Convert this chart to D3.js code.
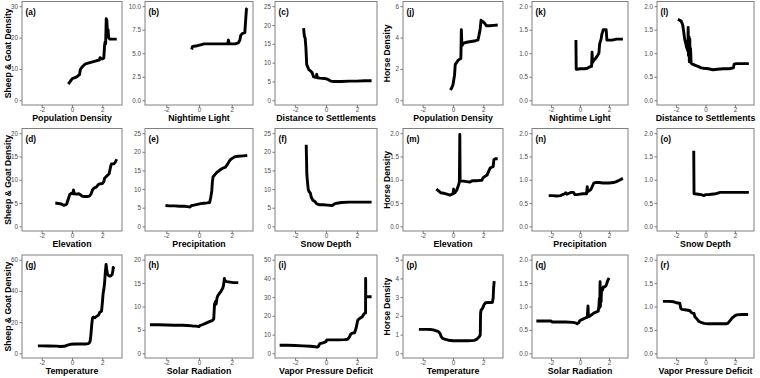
<!DOCTYPE html>
<html><head><meta charset="utf-8">
<script src="https://cdn.jsdelivr.net/npm/d3@7"></script>
<style>body{margin:0;background:#fff}svg{display:block}text{font-family:"Liberation Sans",Arial,sans-serif}</style>
</head><body><svg id="c" width="760" height="378"></svg>
<script>
// ---- data ----
const aX=[-0.25,-0.15,-0.05,0.05,0.2,0.35,0.45,0.5,0.55,0.62,0.7,0.85,1.0,1.3,1.6,1.8,1.85,1.95,2.0,2.1,2.15,2.18,2.22,2.26,2.3,2.35,2.38,2.42,2.5,2.7,2.95];
const aY=[5.2,5.8,6.5,7.0,7.2,7.6,8.0,8.2,9.8,10.3,10.8,11.5,11.8,12.2,12.6,12.8,13.6,13.2,13.2,13.5,17.5,18.5,18.0,26.0,25.5,20.5,22.5,20.0,19.5,19.5,19.5];
const bX=[-0.45,-0.4,-0.3,-0.1,0.1,0.3,0.8,1.3,1.75,1.8,1.85,1.9,2.2,2.4,2.5,2.55,2.65,2.8,2.85,2.9,2.95];
const bY=[5.4,5.7,5.75,5.8,5.9,6.0,6.0,6.0,6.0,6.4,6.0,6.0,6.0,6.1,6.4,6.9,7.1,7.2,8.5,9.7,9.8];
const cX=[-1.45,-1.4,-1.35,-1.3,-1.25,-1.2,-1.1,-1.0,-0.9,-0.8,-0.7,-0.62,-0.6,-0.57,-0.4,-0.1,0.1,0.3,0.5,1.0,1.5,2.0,2.5,2.95];
const cY=[19.2,17.0,16.6,14.0,9.6,9.0,8.1,7.8,7.4,6.2,6.1,6.1,6.9,6.0,5.9,5.8,5.6,5.1,5.0,5.0,5.1,5.1,5.2,5.2];
const dX=[-1.1,-0.9,-0.7,-0.55,-0.45,-0.35,-0.25,-0.15,-0.05,0.05,0.1,0.15,0.3,0.45,0.55,0.65,0.8,1.0,1.15,1.25,1.35,1.45,1.6,1.75,1.85,2.0,2.1,2.15,2.3,2.45,2.55,2.6,2.75,2.85,2.95];
const dY=[5.0,4.9,4.8,4.5,4.6,4.8,5.8,6.8,7.1,7.0,7.8,7.0,6.9,7.0,6.8,6.5,6.4,6.4,6.5,6.9,7.8,8.2,8.4,9.0,9.1,9.2,9.6,10.3,10.8,11.3,12.8,13.4,13.4,13.7,14.4];
const eX=[-2.05,-1.8,-1.5,-1.2,-0.9,-0.7,-0.55,-0.45,-0.3,-0.1,0.1,0.3,0.5,0.65,0.72,0.78,0.82,0.86,0.9,1.0,1.1,1.2,1.3,1.45,1.6,1.75,1.85,1.95,2.05,2.2,2.4,2.7,2.95];
const eY=[5.6,5.5,5.5,5.4,5.4,5.3,5.2,5.6,5.7,5.9,6.1,6.2,6.3,6.4,7.8,9.5,12.0,13.3,13.5,14.0,14.5,14.8,15.2,15.6,15.8,16.7,17.5,18.0,18.3,18.7,18.8,18.9,19.0];
const fX=[-1.28,-1.26,-1.24,-1.2,-1.15,-1.1,-1.02,-0.95,-0.85,-0.7,-0.6,-0.45,-0.2,0.1,0.4,0.55,0.7,1.0,1.5,2.0,2.5,2.95];
const fY=[21.9,18.0,14.0,12.0,10.0,9.3,9.0,7.8,7.0,6.6,6.0,5.8,5.8,5.7,5.6,6.0,6.2,6.4,6.5,6.5,6.5,6.5];
const gX=[-2.25,-2.0,-1.5,-1.0,-0.8,-0.5,-0.3,-0.1,0.2,0.6,0.9,1.05,1.15,1.2,1.25,1.3,1.35,1.4,1.5,1.6,1.75,1.85,1.95,2.0,2.05,2.1,2.15,2.2,2.25,2.3,2.35,2.45,2.55,2.65,2.7,2.72,2.75];
const gY=[4.8,4.8,4.7,4.6,4.4,4.5,5.2,5.8,6.0,6.0,6.0,6.2,6.8,8,12,18,22.5,23.2,22.8,23.5,24.5,26.5,27,32,38,41,45,52,57,53,50.5,49.5,49.5,50.5,53,55,54];
const hX=[-3.0,-2.5,-2.0,-1.5,-1.0,-0.7,-0.4,-0.2,0.0,0.05,0.2,0.4,0.6,0.8,0.9,0.95,1.0,1.05,1.1,1.15,1.25,1.35,1.45,1.5,1.55,1.6,1.7,1.9,2.1,2.4];
const hY=[6.1,6.1,6.05,6.0,6.0,5.95,5.85,5.8,5.7,5.9,6.1,6.4,6.7,7.0,7.3,10.5,11.0,10.5,11.8,12.3,12.8,13.3,13.9,14.5,16.0,15.4,15.3,15.2,15.1,15.1];
const iX=[-3.0,-2.5,-2.0,-1.5,-1.0,-0.7,-0.55,-0.48,-0.4,-0.2,0.0,0.05,0.4,0.8,1.2,1.4,1.5,1.6,1.7,1.85,1.95,2.05,2.15,2.25,2.35,2.45,2.52,2.56,2.565,2.57,2.62,2.8,2.95];
const iY=[4.3,4.3,4.2,4.0,3.8,3.5,3.3,3.8,5.2,5.6,6.2,7.2,7.2,7.2,7.3,7.5,8.5,10.2,10.8,11.0,13.5,17.5,18.5,19.0,19.5,21.0,21.5,21.5,40.0,30.2,30.2,30.2,30.2];
const jX=[-0.17,-0.08,0.0,0.05,0.1,0.15,0.2,0.3,0.4,0.5,0.52,0.55,0.58,0.6,0.7,0.9,1.2,1.5,1.65,1.75,1.8,1.85,1.9,2.0,2.1,2.2,2.4,2.7,2.95];
const jY=[0.65,0.8,1.0,1.3,1.6,2.3,2.35,2.5,2.6,2.65,2.7,4.5,3.7,3.5,3.65,3.7,3.75,3.8,3.85,4.3,4.6,5.1,5.05,5.0,4.9,4.75,4.75,4.78,4.8];
const kX=[-0.28,-0.26,-0.2,0.0,0.3,0.5,0.6,0.75,0.8,0.83,0.86,0.95,1.05,1.2,1.3,1.35,1.45,1.5,1.6,1.7,1.8,1.85,1.9,2.2,2.5,2.8,2.95];
const kY=[1.28,0.66,0.66,0.67,0.67,0.68,0.7,0.72,0.72,1.02,0.8,0.85,0.88,0.95,1.0,1.2,1.3,1.4,1.5,1.5,1.5,1.28,1.28,1.28,1.3,1.3,1.3];
const lX=[-1.88,-1.75,-1.65,-1.55,-1.48,-1.42,-1.35,-1.28,-1.2,-1.18,-1.16,-1.12,-1.1,-1.07,-1.05,-1.02,-0.98,-0.95,-0.9,-0.8,-0.7,-0.5,-0.3,-0.1,0.2,0.5,0.8,1.2,1.6,1.9,1.95,2.1,2.5,2.95];
const lY=[1.72,1.7,1.68,1.6,1.45,1.3,1.22,1.12,1.05,1.55,0.95,1.35,0.82,1.3,0.85,1.1,0.8,0.78,0.77,0.76,0.74,0.72,0.69,0.68,0.67,0.65,0.66,0.67,0.67,0.69,0.77,0.78,0.78,0.78];
const mX=[-1.1,-0.95,-0.8,-0.6,-0.4,-0.2,0.0,0.04,0.08,0.15,0.25,0.35,0.42,0.45,0.47,0.55,0.7,0.9,1.1,1.3,1.6,1.9,2.0,2.1,2.25,2.35,2.45,2.55,2.65,2.7,2.8,2.95];
const mY=[0.8,0.76,0.72,0.71,0.69,0.67,0.7,0.8,0.71,0.73,0.78,0.87,0.95,1.97,0.97,0.97,0.97,0.96,0.95,0.98,0.98,0.99,1.05,1.07,1.1,1.18,1.25,1.27,1.28,1.43,1.45,1.45];
const nX=[-2.15,-1.9,-1.6,-1.35,-1.2,-1.05,-0.98,-0.9,-0.75,-0.6,-0.45,-0.35,-0.2,0.0,0.2,0.45,0.5,0.52,0.6,0.75,0.85,0.95,1.05,1.3,1.6,2.0,2.3,2.5,2.7,2.95];
const nY=[0.66,0.66,0.65,0.66,0.68,0.7,0.72,0.69,0.71,0.73,0.73,0.68,0.68,0.69,0.7,0.7,0.85,0.74,0.76,0.79,0.86,0.93,0.94,0.94,0.93,0.93,0.94,0.96,0.99,1.03];
const oX=[-0.8,-0.78,-0.7,-0.5,-0.3,-0.1,0.0,0.2,0.4,0.7,0.9,1.0,1.5,2.0,2.5,2.95];
const oY=[1.62,0.7,0.7,0.69,0.68,0.66,0.68,0.68,0.69,0.7,0.72,0.73,0.73,0.73,0.73,0.73];
const pX=[-2.25,-2.0,-1.7,-1.5,-1.3,-1.1,-0.95,-0.85,-0.78,-0.7,-0.5,-0.3,0.0,0.5,1.0,1.4,1.55,1.65,1.75,1.8,1.82,1.85,1.95,2.05,2.15,2.3,2.5,2.6,2.65,2.68,2.72];
const pY=[1.28,1.28,1.28,1.27,1.25,1.2,1.15,1.05,0.9,0.8,0.75,0.7,0.67,0.67,0.67,0.69,0.74,0.82,0.9,1.0,2.1,2.3,2.4,2.6,2.7,2.71,2.71,2.72,2.95,3.5,3.85];
const qX=[-3.0,-2.5,-2.0,-1.9,-1.5,-1.0,-0.5,-0.3,-0.2,-0.1,0.0,0.2,0.4,0.5,0.55,0.58,0.7,0.9,1.1,1.25,1.3,1.33,1.36,1.38,1.4,1.42,1.45,1.48,1.5,1.55,1.6,1.7,1.8,1.9,2.0];
const qY=[0.69,0.69,0.69,0.67,0.67,0.67,0.66,0.65,0.63,0.65,0.7,0.73,0.76,0.77,1.01,0.78,0.8,0.85,0.88,0.9,1.0,1.17,0.98,1.53,1.0,1.2,1.1,1.38,1.35,1.35,1.42,1.42,1.45,1.55,1.61];
const rX=[-2.9,-2.5,-2.15,-2.0,-1.75,-1.68,-1.6,-1.4,-1.2,-1.05,-1.0,-0.9,-0.78,-0.72,-0.6,-0.45,-0.3,-0.1,0.2,0.6,1.0,1.4,1.5,1.6,1.7,1.8,1.95,2.1,2.5,2.9];
const rY=[1.11,1.11,1.1,1.08,1.07,0.96,0.94,0.93,0.92,0.91,0.88,0.86,0.85,0.78,0.74,0.68,0.66,0.64,0.63,0.63,0.63,0.63,0.64,0.67,0.71,0.75,0.79,0.82,0.83,0.83];

const panelIds=["a","b","c","j","k","l","d","e","f","m","n","o","g","h","i","p","q","r"];
const xTitles=["Population Density","Nightime Light","Distance to Settlements","Population Density","Nightime Light","Distance to Settlements",
"Elevation","Precipitation","Snow Depth","Elevation","Precipitation","Snow Depth",
"Temperature","Solar Radiation","Vapor Pressure Deficit","Temperature","Solar Radiation","Vapor Pressure Deficit"];
const yTicks=[[0,10,20,30],[0,2.5,5,7.5,10],[0,5,10,15,20,25],[0,2,4,6],[0,0.5,1,1.5,2],[0,0.5,1,1.5,2],
[0,5,10,15,20],[0,5,10,15,20,25],[0,5,10,15,20,25],[0,0.5,1,1.5,2],[0,0.5,1,1.5,2],[0,0.5,1,1.5,2],
[0,20,40,60],[0,5,10,15,20],[0,10,20,30,40,50],[0,1,2,3,4,5],[0,0.5,1,1.5,2],[0,0.5,1,1.5,2]];
const xTicks=[-2,0,2];
const yTitles=["Sheep & Goat Density","Horse Density"];
const series={a:[aX,aY],b:[bX,bY],c:[cX,cY],d:[dX,dY],e:[eX,eY],f:[fX,fY],g:[gX,gY],h:[hX,hY],i:[iX,iY],
j:[jX,jY],k:[kX,kY],l:[lX,lY],m:[mX,mY],n:[nX,nY],o:[oX,oY],p:[pX,pY],q:[qX,qY],r:[rX,rY]};

// ---- layout ----
const colLeft=[22,145,275,403,532,657], colRight=[122,253,377,503,628,754];
const rowTop=[1.5,128.5,255], rowBottom=[105,231,358];
const svg=d3.select("#c");

panelIds.forEach((id,idx)=>{
  const r=Math.floor(idx/6), c=idx%6;
  const L=colLeft[c],R=colRight[c],T=rowTop[r],B=rowBottom[r];
  const ticks=yTicks[idx], ymax=d3.max(ticks);
  const x=d3.scaleLinear().domain([-3.3,3.3]).range([L,R]);
  const y=d3.scaleLinear().domain([-0.05*ymax,1.05*ymax]).range([B,T]);
  const dec=ticks.some(t=>t%1!==0);
  const g=svg.append("g");
  const ya=g.append("g").attr("transform",`translate(${L},0)`)
    .call(d3.axisLeft(y).tickValues(ticks).tickSize(2.5).tickPadding(1.5).tickFormat(d=>dec?d.toFixed(1):String(d)));
  const xa=g.append("g").attr("transform",`translate(0,${B})`)
    .call(d3.axisBottom(x).tickValues(xTicks).tickSize(2.5).tickPadding(0.5).tickFormat(d=>String(d)));
  [ya,xa].forEach(a=>{a.select(".domain").remove();
    a.selectAll(".tick line").attr("stroke","#555").attr("stroke-width",0.8);
    a.selectAll(".tick text").attr("fill","#4d4d4d").style("font-size","6.3px");});
  g.append("rect").attr("x",L).attr("y",T).attr("width",R-L).attr("height",B-T)
    .attr("fill","none").attr("stroke","#808080").attr("stroke-width",1);
  const [xs,ys]=series[id];
  const pts=xs.map((v,i)=>[v,ys[i]]);
  g.append("path").datum(pts).attr("fill","none").attr("stroke","#000").attr("stroke-width",2.9)
    .attr("stroke-linejoin","round").attr("d",d3.line().x(d=>x(d[0])).y(d=>y(d[1])));
  g.append("text").attr("x",L+3.5).attr("y",T+13).text(`(${id})`)
    .style("font-size","8.3px").style("font-weight","bold");
  g.append("text").attr("x",(L+R)/2).attr("y",B+16).attr("text-anchor","middle")
    .text(xTitles[idx]).style("font-size","8.8px").style("font-weight","bold");
  if(c===0||c===3){
    const cx=c===0?7.5:386.5;
    g.append("text").attr("transform",`translate(${cx},${(T+B)/2}) rotate(-90)`).attr("text-anchor","middle")
      .attr("dy","0.35em").text(yTitles[c===0?0:1]).style("font-size","8.6px").style("font-weight","bold");
  }
});
</script></body></html>
